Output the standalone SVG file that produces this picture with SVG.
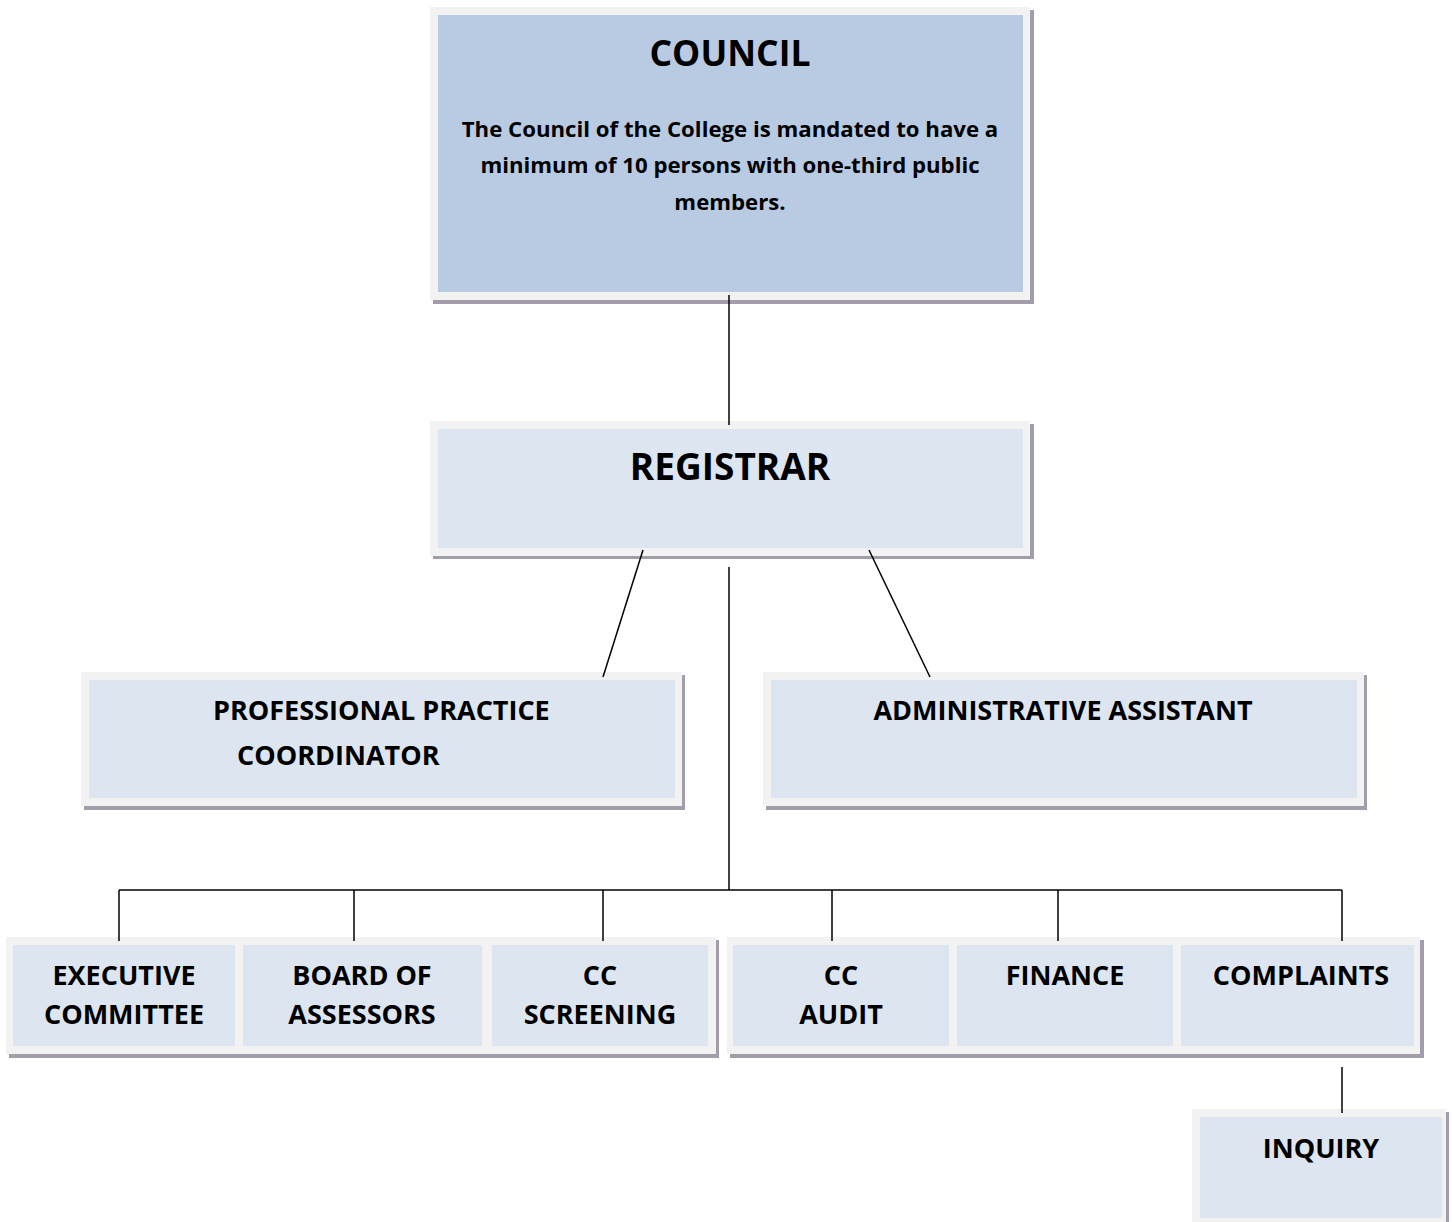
<svg xmlns="http://www.w3.org/2000/svg" width="1452" height="1222" viewBox="0 0 1452 1222">
<style>
.sh{fill:#a29cab}
.fr{fill:#f2f2f2}
.in{fill:#dde6f0}
.dk{fill:#b9cbe2}
text{font-family:"Open Sans","Liberation Sans",sans-serif;font-weight:bold;fill:#000}
.c{text-anchor:middle}
.t36{font-size:35.5px}
.t19{font-size:22.2px}
.t25{font-size:27px}
.conn line{stroke:#000;stroke-width:1.5}
</style>
<g id="council">
<rect class="sh" x="433" y="10" width="601" height="294"/>
<rect class="fr" x="430" y="7" width="600" height="293"/>
<rect class="dk" x="438" y="15" width="585" height="277"/>
<text class="c t36" x="730" y="66">COUNCIL</text>
<text class="c t19" x="730" y="137">The Council of the College is mandated to have a</text>
<text class="c t19" x="730" y="173">minimum of 10 persons with one-third public</text>
<text class="c t19" x="730" y="210">members.</text>
</g>
<g id="registrar">
<rect class="sh" x="433" y="424" width="601" height="135"/>
<rect class="fr" x="430" y="421" width="600" height="135"/>
<rect class="in" x="438" y="429" width="585" height="119"/>
<text class="c" style="font-size:37px" x="730" y="480">REGISTRAR</text>
</g>
<g id="ppc">
<rect class="sh" x="84" y="675" width="601" height="135"/>
<rect class="fr" x="81" y="672" width="601" height="134"/>
<rect class="in" x="89" y="680" width="586" height="118"/>
<text class="t25" x="213" y="720">PROFESSIONAL PRACTICE</text>
<text class="t25" x="237" y="765">COORDINATOR</text>
</g>
<g id="admin">
<rect class="sh" x="766" y="675" width="601" height="135"/>
<rect class="fr" x="763" y="672" width="601" height="134"/>
<rect class="in" x="771" y="680" width="586" height="118"/>
<text class="c t25" x="1063" y="720">ADMINISTRATIVE ASSISTANT</text>
</g>
<g id="executive">
<rect class="sh" x="9" y="940" width="234" height="118"/>
<rect class="fr" x="6" y="937" width="234" height="117"/>
<rect class="in" x="13" y="945" width="222" height="101"/>
<text class="c t25" x="124" y="985">EXECUTIVE</text>
<text class="c t25" x="124" y="1024">COMMITTEE</text>
</g>
<g id="board">
<rect class="sh" x="243" y="940" width="248" height="118"/>
<rect class="fr" x="240" y="937" width="248" height="117"/>
<rect class="in" x="243" y="945" width="239" height="101"/>
<text class="c t25" x="362" y="985">BOARD OF</text>
<text class="c t25" x="362" y="1024">ASSESSORS</text>
</g>
<g id="screening">
<rect class="sh" x="491" y="940" width="228" height="118"/>
<rect class="fr" x="488" y="937" width="228" height="117"/>
<rect class="in" x="492" y="945" width="216" height="101"/>
<text class="c t25" x="600" y="985">CC</text>
<text class="c t25" x="600" y="1024">SCREENING</text>
</g>
<g id="audit">
<rect class="sh" x="730" y="940" width="227" height="118"/>
<rect class="fr" x="727" y="937" width="227" height="117"/>
<rect class="in" x="733" y="945" width="216" height="101"/>
<text class="c t25" x="841" y="985">CC</text>
<text class="c t25" x="841" y="1024">AUDIT</text>
</g>
<g id="finance">
<rect class="sh" x="956" y="940" width="225" height="118"/>
<rect class="fr" x="953" y="937" width="225" height="117"/>
<rect class="in" x="957" y="945" width="216" height="101"/>
<text class="c t25" x="1065" y="985">FINANCE</text>
</g>
<g id="complaints">
<rect class="sh" x="1181" y="940" width="243" height="118"/>
<rect class="fr" x="1178" y="937" width="242" height="117"/>
<rect class="in" x="1181" y="945" width="233" height="101"/>
<text class="c t25" x="1301" y="985">COMPLAINTS</text>
</g>
<g id="inquiry">
<rect class="sh" x="1195" y="1112" width="254" height="110"/>
<rect class="fr" x="1192" y="1109" width="254" height="113"/>
<rect class="in" x="1200" y="1117" width="242" height="101"/>
<text class="c t25" x="1321" y="1158">INQUIRY</text>
</g>
<g class="conn" id="connectors">
<line x1="729" y1="295" x2="729" y2="425"/>
<line x1="729" y1="567" x2="729" y2="890"/>
<line x1="643" y1="550" x2="603" y2="677"/>
<line x1="869" y1="550" x2="930" y2="677"/>
<line x1="119" y1="890" x2="1342" y2="890"/>
<line x1="119" y1="890" x2="119" y2="941"/>
<line x1="354" y1="890" x2="354" y2="941"/>
<line x1="603" y1="890" x2="603" y2="941"/>
<line x1="832" y1="890" x2="832" y2="941"/>
<line x1="1058" y1="890" x2="1058" y2="941"/>
<line x1="1342" y1="890" x2="1342" y2="941"/>
<line x1="1342" y1="1067" x2="1342" y2="1113"/>
</g>
</svg>
